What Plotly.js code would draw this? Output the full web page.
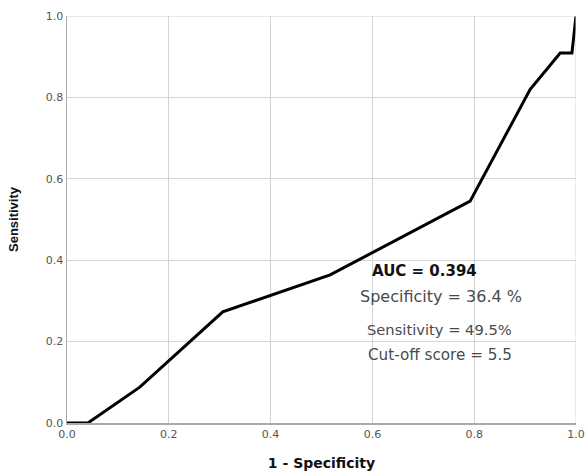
<!DOCTYPE html>
<html><head><meta charset="utf-8">
<script src="https://cdn.plot.ly/plotly-3.0.1.min.js"></script>
<style>html,body{margin:0;padding:0;background:#fff}</style>
</head><body><div id="chart" style="width:585px;height:471px"></div>
<script>
const fpr = [0, 0.041, 0.143, 0.306, 0.517, 0.792, 0.910, 0.969, 0.992, 1.0];
const tpr = [0, 0, 0.088, 0.273, 0.364, 0.545, 0.820, 0.909, 0.909, 1.0];
const tickVals = [0, 0.2, 0.4, 0.6, 0.8, 1.0];
const tickText = ["0.0", "0.2", "0.4", "0.6", "0.8", "1.0"];
const notes = ["AUC = 0.394", "Specificity = 36.4 %", "Sensitivity = 49.5%", "Cut-off score = 5.5"];
const noteX = [0.703, 0.735, 0.732, 0.733];
const noteY = [0.373, 0.310, 0.229, 0.167];
const noteSize = [15, 16, 14.7, 15.2];

const font = "DejaVu Sans, Verdana, sans-serif";
const data = [{
  x: fpr, y: tpr, type: "scatter", mode: "lines",
  line: {color: "#000", width: 3}, hoverinfo: "skip"
}];
const layout = {
  width: 585, height: 471,
  margin: {l: 67, r: 9, t: 16, b: 48},
  paper_bgcolor: "#fff", plot_bgcolor: "#fff",
  showlegend: false,
  font: {family: font, color: "#555", size: 11},
  xaxis: {
    range: [0, 1], tickvals: tickVals, ticktext: tickText,
    showgrid: true, gridcolor: "#d4d4d4", gridwidth: 1,
    zeroline: false, showline: true, linecolor: "#aaa", linewidth: 1.5,
    ticks: "", ticklen: 0, tickfont: {family: font, size: 11, color: "#555"},
    title: {text: "<b>1 - Specificity</b>", font: {family: font, size: 14, color: "#111"}, standoff: 19}
  },
  yaxis: {
    range: [0, 1], tickvals: tickVals, ticktext: tickText,
    showgrid: true, gridcolor: "#d4d4d4", gridwidth: 1,
    zeroline: false, showline: true, linecolor: "#aaa", linewidth: 1.5,
    ticks: "", ticklen: 0, tickfont: {family: font, size: 11, color: "#555"},
    title: {text: "<b>Sensitivity</b>", font: {family: "Liberation Sans, Arial, sans-serif", size: 13, color: "#111"}, standoff: 24}
  },
  annotations: notes.map((t, i) => ({
    x: noteX[i], y: noteY[i], xref: "x", yref: "y", showarrow: false,
    text: i === 0 ? "<b>" + t + "</b>" : t,
    font: {family: font, size: noteSize[i], color: i === 0 ? "#111" : "#4a4a4a"},
    xanchor: "center", yanchor: "middle"
  })),
  shapes: [
    {type: "line", xref: "x", yref: "y", x0: 0, x1: 1, y0: 1, y1: 1, line: {color: "#d4d4d4", width: 1}},
    {type: "line", xref: "x", yref: "y", x0: 1, x1: 1, y0: 0, y1: 1, line: {color: "#d4d4d4", width: 1}}
  ]
};
Plotly.newPlot("chart", data, layout, {displayModeBar: false, staticPlot: true});
</script></body></html>
